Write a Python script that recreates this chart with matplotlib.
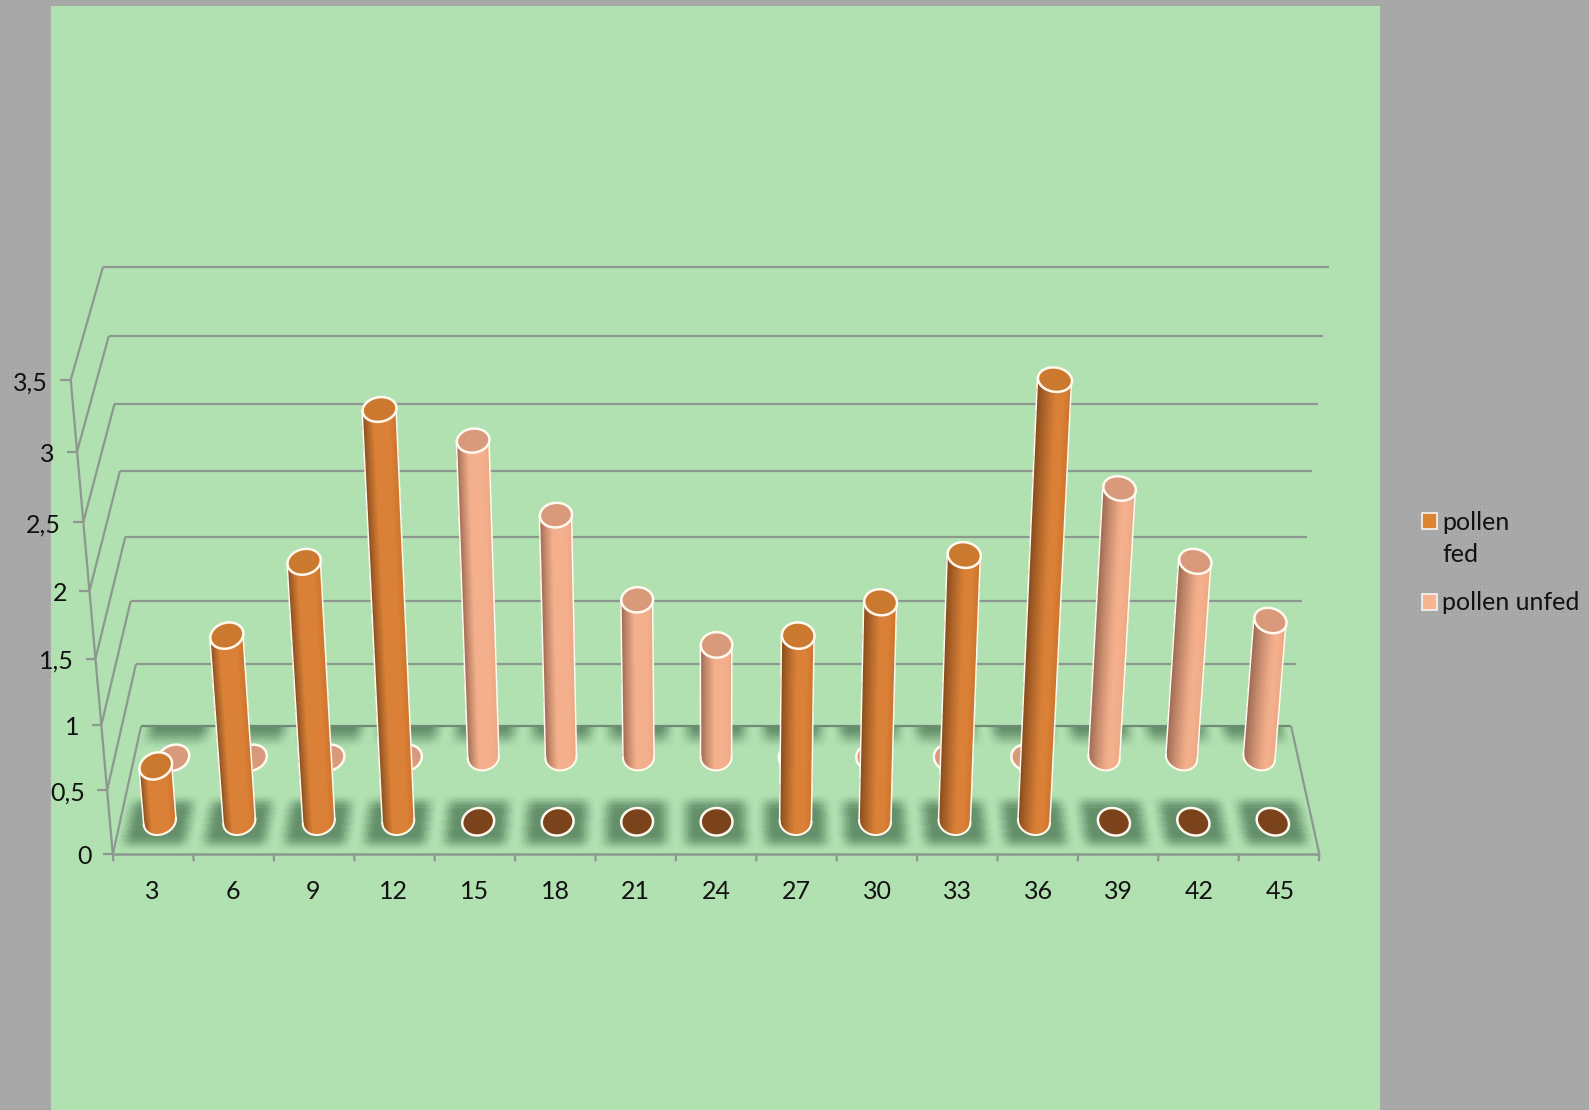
import numpy as np
import matplotlib
matplotlib.use("Agg")
import matplotlib.pyplot as plt
from matplotlib.patches import Rectangle
from matplotlib.colors import to_rgb
from mpl_toolkits.mplot3d import proj3d
from mpl_toolkits.mplot3d.art3d import Poly3DCollection

# data
categorias = [3, 6, 9, 12, 15, 18, 21, 24, 27, 30, 33, 36, 39, 42, 45]
pollen_fed = [0.44, 1.44, 1.99, 3.09, 0, 0, 0, 0, 1.44, 1.69, 2.04, 3.30, 0, 0, 0]
pollen_unfed = [0, 0, 0, 0, 2.445, 1.89, 1.245, 0.895, 0, 0, 0, 0, 2.09, 1.54, 1.085]
ticks_z = [0, 0.5, 1, 1.5, 2, 2.5, 3, 3.5]
tick_labels_z = ["0", "0,5", "1", "1,5", "2", "2,5", "3", "3,5"]
leyenda = ["pollen\nfed", "pollen unfed"]

W, H = 1589, 1110
VERDE = "#b1e0b1"
GRIS = "#8d988f"
FUENTE = "Lato"
TAM = 18
RX, RY = 0.2, 0.21

fig = plt.figure(figsize=(W / 100, H / 100), dpi=100)

# fondo gris punteado y panel verde
fondo = np.full((H, W), 168, dtype=np.uint8)
fondo[::4, ::4] = 160
fondo[2::4, 2::4] = 176
fig.figimage(fondo, cmap="gray", vmin=0, vmax=255, zorder=0)
fig.patches.append(Rectangle((51 / W, 0), (1380 - 51) / W, 1 - 6 / H, transform=fig.transFigure,
                             facecolor=VERDE, edgecolor="none", zorder=1, figure=fig))

# camara ajustada a las esquinas de la caja
L = 1312.9
ax = fig.add_axes([41.9 / W, -127.2 / H, L / W, L / H], projection="3d", computed_zorder=False, zorder=2)
ax.view_init(elev=30.383, azim=-90, roll=0)
ax.set_proj_type("persp", focal_length=0.58657)
ax.set_box_aspect((1, 0.19668, 0.44451))
ax.set_xticks([])
ax.set_yticks([])
ax.set_zticks([])
ax.set_xlim(0, 15)
ax.set_ylim(0, 2)
ax.set_zlim(0, 3.5)
ax.set_axis_off()
ax.patch.set_visible(False)
M = ax.get_proj()


def linea(xs, ys, zs, color=GRIS, lw=1.6, zorder=3):
    ax.plot(xs, ys, zs, color=color, lw=lw, zorder=zorder, solid_capstyle="butt")


def etiqueta(x, y, z, texto, ha):
    # Text3D guarda una posicion 2D rara fuera del draw, mejor texto de figura en el punto proyectado
    u, v, _ = proj3d.proj_transform(np.array([x]), np.array([y]), np.array([z]), M)
    px, py = ax.transData.transform((u[0], v[0]))
    fig.text(px / W, py / H, texto, ha=ha, va="center", fontsize=TAM, family=FUENTE, color="#111111", zorder=3)


# paredes, piso y ejes
for z in ticks_z[1:]:
    linea([0, 15], [2, 2], [z, z])
    linea([0, 0], [0, 2], [z, z])
    linea([-0.12, 0], [0, 0], [z, z])
linea([-0.12, 0], [0, 0], [0, 0])
linea([0, 0], [0, 0], [0, 3.5])
linea([0, 15], [0, 0], [0, 0], lw=1.8)
linea([0, 15], [2, 2], [0, 0], color="#6f8a75")
linea([0, 0], [0, 2], [0, 0])
linea([15, 15], [0, 2], [0, 0])
for i in range(16):
    linea([i, i], [0, 0], [0, -0.055])

for z, t in zip(ticks_z, tick_labels_z):
    etiqueta(-0.27, 0, z - 0.02, t, "right")
for i, c in enumerate(categorias):
    etiqueta(i + 0.5, -0.2, -0.185, str(c), "center")


# sombras difusas en el piso
def rampa(d, a, b):
    t = np.clip((b - d) / (b - a), 0, 1)
    return t * t * (3 - 2 * t)


xs = np.linspace(0, 15, 601)
ys = np.linspace(0, 2, 61)
X, Y = np.meshgrid(xs, ys)
xc = 0.5 * (xs[:-1] + xs[1:])
yc = 0.5 * (ys[:-1] + ys[1:])
XC, YC = np.meshgrid(xc, yc)
dx = np.abs((XC % 1) - 0.5)
alfa = rampa(dx, 0.25, 0.5) * (rampa(np.abs(YC - 0.47), 0.18, 0.46) + rampa(2 - YC, 0.02, 0.4))
alfa = (0.6 * alfa)[..., None]
col = np.ones(alfa.shape[:2] + (4,))
col[..., :3] = np.array(to_rgb("#2f5a3a")) * alfa + np.array(to_rgb(VERDE)) * (1 - alfa)
ax.plot_surface(X, Y, np.zeros_like(X), facecolors=col, shade=False, rstride=1, cstride=1,
                linewidth=0, antialiased=False, zorder=2)


def tangentes(x0, y0, h):
    t = np.linspace(np.pi * 0.6, np.pi * 2.4, 361)
    bx = x0 + RX * np.cos(t)
    by = y0 + RY * np.sin(t)
    u0, v0, _ = proj3d.proj_transform(bx, by, np.zeros_like(t), M)
    u1, v1, _ = proj3d.proj_transform(np.array([x0, x0]), np.array([y0, y0]), np.array([0.0, h]), M)
    d = np.array([u1[1] - u1[0], v1[1] - v1[0]])
    d = d / np.linalg.norm(d)
    c = np.array(u0) * d[1] - np.array(v0) * d[0]
    return t[np.argmin(c)], t[np.argmax(c)]


def columna(x0, y0, h, oscuro, medio, borde, tapa, zorder):
    anillo = np.linspace(0, 2 * np.pi, 80)
    blanco = "#fff9f0"
    if h > 0:
        a, b = tangentes(x0, y0, h)
        if b < a:
            a, b = b, a
        t = np.linspace(a, b, 97)
        Xc = np.vstack([x0 + RX * np.cos(t)] * 2)
        Yc = np.vstack([y0 + RY * np.sin(t)] * 2)
        Zc = np.vstack([np.zeros_like(t), np.full_like(t, h)])
        tm = 0.5 * (t[:-1] + t[1:])
        p = (1 - np.cos((tm - a) / (b - a) * np.pi)) / 2
        ancho = 0.25 + 0.45 * x0 / 15
        c1 = np.clip(p / ancho, 0, 1)[:, None] ** 0.8
        c2 = np.clip((p - 0.75) / 0.25, 0, 1)[:, None]
        rgb = np.array(to_rgb(oscuro)) * (1 - c1) + np.array(to_rgb(medio)) * c1
        rgb = rgb * (1 - c2) + np.array(to_rgb(borde)) * c2
        fc = np.dstack([rgb[None, :, :], np.ones((1, len(tm), 1))])
        ax.plot_surface(Xc, Yc, Zc, facecolors=fc, shade=False, rstride=1, cstride=1,
                        linewidth=0, antialiased=False, zorder=zorder)
        ax.plot(x0 + RX * np.cos(t), y0 + RY * np.sin(t), np.zeros_like(t), color=blanco, lw=1.5, zorder=zorder + 0.1)
        for e in (a, b):
            ax.plot([x0 + RX * np.cos(e)] * 2, [y0 + RY * np.sin(e)] * 2, [0, h], color=blanco, lw=1.1, zorder=zorder + 0.1)
    v = list(zip(x0 + RX * np.cos(anillo), y0 + RY * np.sin(anillo), np.full_like(anillo, h)))
    ax.add_collection3d(Poly3DCollection([v], facecolor=tapa, edgecolor=blanco, linewidth=1.8, zorder=zorder + 0.2))


for i, h in enumerate(pollen_unfed):
    columna(i + 0.5, 1.5, h, "#93604a", "#f4b08c", "#eda683", "#d99a7c", 10 + i)
for i, h in enumerate(pollen_fed):
    tapa = "#cb792e" if h > 0 else "#7b431b"
    columna(i + 0.5, 0.5, h, "#7c4419", "#da8137", "#cc722a", tapa, 30 + i)

ax.set_xlim(0, 15)
ax.set_ylim(0, 2)
ax.set_zlim(0, 3.5)

# leyenda
for y_caja, color in zip((513, 594), ("#dd8433", "#f7b48f")):
    fig.patches.append(Rectangle((1421.5 / W, 1 - (y_caja + 16) / H), 15 / W, 16 / H, transform=fig.transFigure,
                                 facecolor=color, edgecolor="#f4f4f4", linewidth=1.2, zorder=3, figure=fig))
fig.text(1442 / W, 1 - 522 / H, leyenda[0].split("\n")[0], ha="left", va="center", fontsize=TAM, family=FUENTE, color="#111111")
fig.text(1442 / W, 1 - 555 / H, leyenda[0].split("\n")[1], ha="left", va="center", fontsize=TAM, family=FUENTE, color="#111111")
fig.text(1442 / W, 1 - 602 / H, leyenda[1], ha="left", va="center", fontsize=TAM, family=FUENTE, color="#111111")

fig.savefig("out.png", dpi=100)
